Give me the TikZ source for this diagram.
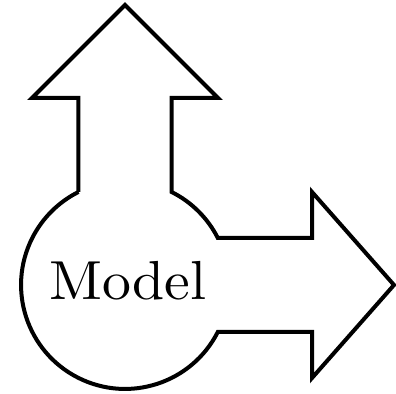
\documentclass[tikz,border=0pt]{standalone}
\usepackage{amsmath,amssymb}
\usepackage{tikz}
\usetikzlibrary{calc}
\font\modelfont="[lmroman10-regular]" at 27.5pt
\begin{document}
\begin{tikzpicture}[x=0.5pt,y=0.5pt]
  \useasboundingbox (0,0) rectangle (396,394);
  % Centras
  \coordinate (O) at (125,109);
  % Rodyklė aukštyn
  \coordinate (A) at (78.4,202);
  \coordinate (B) at (78.4,296);
  \coordinate (C) at (32,296);
  \coordinate (D) at (125,389);
  \coordinate (E) at (218,296);
  \coordinate (F) at (171.6,296);
  \coordinate (G) at (171.6,202);
  % Rodyklė į dešinę
  \coordinate (H) at (312,156);
  \coordinate (I) at (312,202);
  \coordinate (J) at (394,109);
  \coordinate (K) at (312,16);
  \coordinate (L) at (312,62);
  \coordinate (M) at (217.8,62);

  \draw[line width=2pt, line join=miter]
    (A) -- (B) -- (C) -- (D) -- (E) -- (F) -- (G)
    arc[start angle=63.4, end angle=26.9, radius=104]
    -- (H) -- (I) -- (J) -- (K) -- (L) -- (M)
    arc[start angle=-26.9, end angle=-243.4, radius=104] -- cycle;

  \node[anchor=base, inner sep=0pt, xscale=1.05, transform shape, font=\modelfont] (model) at (128,94) {Model};
\end{tikzpicture}
\end{document}
